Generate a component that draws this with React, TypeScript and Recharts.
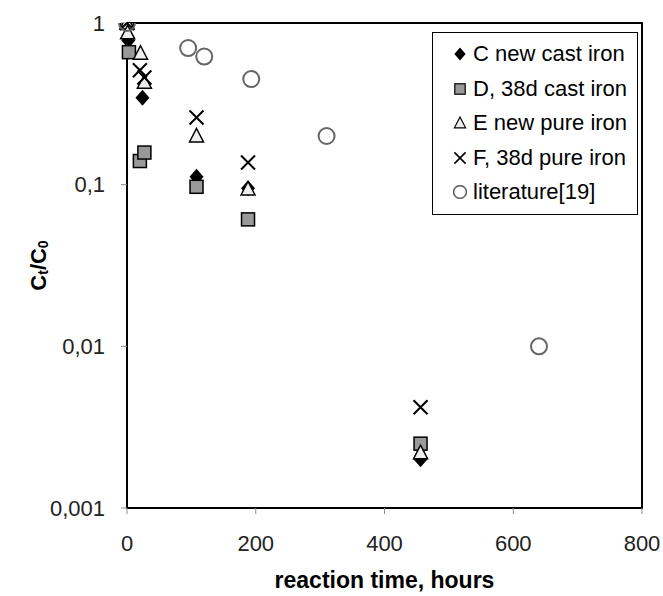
import React from "react";
import { ScatterChart, Scatter, XAxis, YAxis, ReferenceArea } from "recharts";

// reaction time (hours) and Ct/C0 for each run
const cTime = [0, 2, 24, 108, 188, 456];
const cRatio = [1, 0.78, 0.345, 0.112, 0.095, 0.002];
const dTime = [0, 3, 20, 27, 108, 188, 456];
const dRatio = [1, 0.66, 0.14, 0.158, 0.097, 0.061, 0.0025];
const eTime = [0, 1, 21, 27, 108, 188, 456];
const eRatio = [1, 0.87, 0.65, 0.43, 0.2, 0.094, 0.0022];
const fTime = [0, 20, 27, 108, 188, 456];
const fRatio = [1, 0.51, 0.46, 0.26, 0.137, 0.0042];
const litTime = [0, 95, 120, 193, 310, 640];
const litRatio = [1, 0.7, 0.62, 0.45, 0.2, 0.01];

const xTicks = [0, 200, 400, 600, 800];
const yTicks = [0.001, 0.01, 0.1, 1];

const FONT = "'Liberation Sans', Arial, sans-serif";

const toPoints = (t: number[], r: number[]) => t.map((x, i) => ({ x, y: r[i] }));

const Diamond = ({ cx, cy }: any) => (
  <path d={`M${cx},${cy - 8}L${cx + 7},${cy}L${cx},${cy + 8}L${cx - 7},${cy}Z`} fill="#000" />
);
const Square = ({ cx, cy }: any) => (
  <rect x={cx - 6.5} y={cy - 6.5} width={13} height={13} fill="#999" stroke="#000" strokeWidth={1.5} />
);
const Triangle = ({ cx, cy }: any) => (
  <path d={`M${cx},${cy - 7.5}L${cx + 7},${cy + 6}L${cx - 7},${cy + 6}Z`} fill="#eee" stroke="#000" strokeWidth={1.5} />
);
const Cross = ({ cx, cy }: any) => (
  <path d={`M${cx - 7},${cy - 7}L${cx + 7},${cy + 7}M${cx + 7},${cy - 7}L${cx - 7},${cy + 7}`} stroke="#000" strokeWidth={2} />
);
const Ring = ({ cx, cy }: any) => (
  <circle cx={cx} cy={cy} r={8} fill="none" stroke="#666" strokeWidth={2} />
);

const legendItems = [
  { name: "C new cast iron", Shape: Diamond },
  { name: "D, 38d cast iron", Shape: Square },
  { name: "E new pure iron", Shape: Triangle },
  { name: "F, 38d pure iron", Shape: Cross },
  { name: "literature[19]", Shape: Ring },
];

const LegendBox = () => (
  <div
    style={{
      position: "absolute",
      left: 432,
      top: 32,
      width: 206,
      boxSizing: "border-box",
      border: "1px solid #000",
      background: "#fff",
      padding: "4px 4px 4px 20px",
      fontFamily: FONT,
      fontSize: 22,
      color: "#000",
      whiteSpace: "nowrap",
    }}
  >
    {legendItems.map(({ name, Shape }) => (
      <div key={name} style={{ display: "flex", alignItems: "center", height: 34.5 }}>
        <svg width={14} height={14} style={{ marginRight: 6 }}>
          <g transform="translate(7,7) scale(0.8)">
            <Shape cx={0} cy={0} />
          </g>
        </svg>
        {name}
      </div>
    ))}
  </div>
);

const YTitle = ({ viewBox }: any) => {
  const cx = 38;
  const cy = viewBox.y + viewBox.height / 2;
  return (
    <text
      transform={`translate(${cx},${cy}) rotate(-90)`}
      textAnchor="middle"
      fontFamily={FONT}
      fontWeight="bold"
      fontSize={22}
      fill="#000"
      dominantBaseline="central"
    >
      C<tspan fontSize={14} dy={5}>t</tspan>
      <tspan dy={-5}>/C</tspan>
      <tspan fontSize={14} dy={5}>0</tspan>
    </text>
  );
};

const fmtY = (v: number) => String(v).replace(".", ",");

export default function App() {
  return (
    <div style={{ position: "absolute", left: 0, top: 0, width: 663, height: 596, background: "#fff" }}>
      <ScatterChart width={663} height={596} margin={{ top: 23, right: 21, left: 57, bottom: 28 }}>
        <XAxis
          type="number"
          dataKey="x"
          domain={[0, 800]}
          ticks={xTicks}
          axisLine={{ stroke: "#000", strokeWidth: 2 }}
          tickLine={{ stroke: "#888" }}
          tickSize={6}
          tickMargin={21}
          tick={{ fontFamily: FONT, fontSize: 22, fill: "#222" }}
          height={60}
          label={{
            value: "reaction time, hours",
            position: "insideBottom",
            offset: -20,
            style: { fontFamily: FONT, fontWeight: "bold", fontSize: 23, fill: "#000" },
          }}
        />
        <YAxis
          type="number"
          dataKey="y"
          scale="log"
          domain={[0.001, 1]}
          ticks={yTicks}
          allowDataOverflow
          tickFormatter={fmtY}
          axisLine={{ stroke: "#000", strokeWidth: 2 }}
          tickLine={{ stroke: "#888" }}
          tickSize={6}
          tickMargin={16}
          tick={{ fontFamily: FONT, fontSize: 22, fill: "#222" }}
          width={70}
          label={{ content: YTitle }}
        />
        <ReferenceArea x1={0} x2={800} y1={0.001} y2={1} fill="none" stroke="#000" strokeWidth={2} ifOverflow="visible" />
        <Scatter name="C new cast iron" data={toPoints(cTime, cRatio)} shape={Diamond} isAnimationActive={false} />
        <Scatter name="D, 38d cast iron" data={toPoints(dTime, dRatio)} shape={Square} isAnimationActive={false} />
        <Scatter name="E new pure iron" data={toPoints(eTime, eRatio)} shape={Triangle} isAnimationActive={false} />
        <Scatter name="F, 38d pure iron" data={toPoints(fTime, fRatio)} shape={Cross} isAnimationActive={false} />
        <Scatter name="literature[19]" data={toPoints(litTime, litRatio)} shape={Ring} isAnimationActive={false} />
      </ScatterChart>
      <LegendBox />
    </div>
  );
}
